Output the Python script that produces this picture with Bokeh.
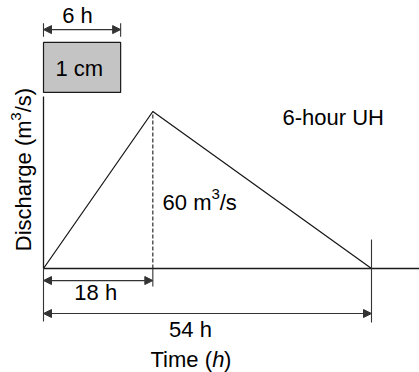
import math
from bokeh.plotting import figure
from bokeh.models import Arrow, NormalHead
from bokeh.core.properties import value
from bokeh.embed import file_html
from bokeh.resources import INLINE

# Unit hydrograph data
time_h = [0, 18, 54]
discharge = [0, 60, 0]
peak_time = 18
base_time = 54
peak_q = 60
duration_h = 6

FONT = "Liberation Sans"
FS = "22px"
FS_SUP = "15px"
INK = "#1a1a1a"

W, H = 419, 372
px_per_h = 328 / 54.0
px_per_q = 157 / 60.0
x0_px, y0_px = 43, 268
xr = (-x0_px / px_per_h, (W - x0_px) / px_per_h)
yr = (-(H - y0_px) / px_per_q, y0_px / px_per_q)

p = figure(width=W, height=H, x_range=xr, y_range=yr, output_backend="svg",
           toolbar_location=None, x_axis_location=None, y_axis_location=None,
           min_border=0)
p.outline_line_color = None
p.grid.visible = False
p.background_fill_color = "white"

# Hydrograph
p.line(time_h, discharge, line_color=INK, line_width=1.3)
p.segment(x0=[peak_time], y0=[0], x1=[peak_time], y1=[peak_q],
          line_color=INK, line_width=1.1, line_dash="4 2")

# axes lines
p.segment(x0=[0], y0=[0], x1=[xr[1]], y1=[0], line_color=INK, line_width=1.3)
p.segment(x0=[0], y0=[0], x1=[0], y1=[65.7], line_color=INK, line_width=1.3)

# rainfall box
p.quad(left=[0], right=[12.7], bottom=[67.3], top=[86.4],
       fill_color="#c4c4c4", line_color=INK, line_width=1.2)

# dimension ticks
tick_x0 = [0, 12.7, 0, peak_time, base_time]
tick_y0 = [88.6, 88.6, 0, 0, 11.1]
tick_y1 = [93.7, 93.7, -20.3, -6.9, -20.6]
p.segment(x0=tick_x0, y0=tick_y0, x1=tick_x0, y1=tick_y1,
          line_color="#333333", line_width=1.1)

def dim_arrow(xa, xb, y):
    p.add_layout(Arrow(x_start=xa, y_start=y, x_end=xb, y_end=y,
                       line_color="#333333", line_width=1.2,
                       start=NormalHead(size=8, fill_color="#333333", line_color="#333333", line_width=1),
                       end=NormalHead(size=8, fill_color="#333333", line_color="#333333", line_width=1)))

dim_arrow(0, 12.7, 91.3)
dim_arrow(0, peak_time, -4.6)
dim_arrow(0, base_time, -17.2)

def txt(x, y, s, align="center", baseline="middle", angle=0, style="normal", size=FS):
    p.text(x=[x], y=[y], text=[s], text_font=value(FONT), text_font_size=size,
           text_align=align, text_baseline=baseline, angle=angle,
           text_color="black", text_font_style=style)

txt(5.6, 96.7, f"{duration_h} h")
txt(5.9, 76.4, "1 cm")
txt(47.7, 57.7, f"{duration_h}-hour UH")
# 60 m^3/s with a real superscript
txt(19.6, 25.2, f"{peak_q} m", align="left")
txt(27.64, 28.3, "3", align="left", size=FS_SUP)
txt(29.0, 25.2, "/s", align="left")
txt(8.6, -9.2, f"{peak_time} h")
txt(24.2, -23.3, f"{base_time} h")
txt(27.74, -34.8, "Time (", align="right")
txt(27.8, -34.8, "h", align="left", style="italic")
txt(29.7, -34.8, ")", align="left")
# Discharge (m^3/s), rotated
rot = math.pi / 2
txt(-3.3, 6.6, "Discharge (m", align="left", angle=rot)
txt(-4.6, 56.5, "3", align="left", angle=rot, size=FS_SUP)
txt(-3.3, 59.7, "/s)", align="left", angle=rot)

open("out.html", "w").write(file_html(p, INLINE))
